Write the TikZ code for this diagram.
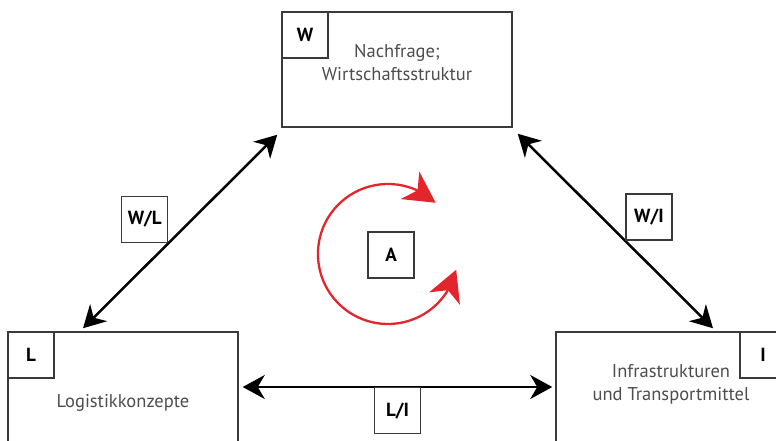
\documentclass[tikz,border=0pt]{standalone}
\usepackage{fontspec}
\setmainfont{PT Sans}
\usetikzlibrary{arrows.meta,bending}
\definecolor{framegray}{HTML}{3A3A3A}
\definecolor{textgray}{HTML}{4D4D4D}
\definecolor{cyclered}{HTML}{E3262D}

\begin{document}
\begin{tikzpicture}[x=1pt,y=1pt,
    >={Stealth[length=22pt,width=24pt,inset=7pt]},
    field/.style={draw=framegray, line width=1.5pt, minimum width=230pt, minimum height=115pt, inner sep=0pt},
    tag/.style={draw=framegray, fill=white, line width=1.5pt, minimum size=46pt, inner sep=0pt, font=\fontsize{19}{22}\selectfont\bfseries},
    caption/.style={text=textgray, align=center, font=\fontsize{18.5}{23}\selectfont},
    link/.style={<->, line width=2.5pt},
    turn/.style={{Stealth[length=31pt,width=33pt,inset=9pt]}-{Stealth[length=31pt,width=33pt,inset=9pt]}, draw=cyclered, line width=2.3pt}]
      \useasboundingbox (0,0) rectangle (776,441);
      \clip (0,0) rectangle (776,441);
      \node[field] (W) at (397,371.5) {};
      \node[field] (L) at (123,51.5) {};
      \node[field] (I) at (671,51.5) {};
      \node[tag,anchor=north west] (Wtag) at (W.north west) {W};
      \node[tag,anchor=north west] (Ltag) at (L.north west) {L};
      \node[tag,anchor=north east] (Itag) at (I.north east) {I};
      \node[caption] (Wtext) at (397,378) {Nachfrage;\\Wirtschaftsstruktur};
      \node[caption] (Ltext) at (123,38) {Logistikkonzepte};
      \node[caption] (Itext) at (671,57) {Infrastrukturen\\und Transportmittel};
      \draw[link] ([shift={(-4,-7)}]W.south west) -- ([shift={(-40,3)}]L.north) node[tag,pos=0.56,anchor=south east] (WL) {W/L};
      \draw[link] ([shift={(5,-6)}]W.south east) -- ([shift={(42,3)}]I.north) node[tag,pos=0.55,anchor=south west] (WI) {W/I};
      \draw[link] ([shift={(4,2.5)}]L.east) -- ([shift={(-3,2.5)}]I.west) node[tag,midway,anchor=north] (LI) {L/I};
      \node[tag] (A) at (391,186) {A};
      \draw[turn] ([shift={(44.7,52.2)}]A.center) arc[start angle=47, end angle=347, radius=70];
    \end{tikzpicture}
\end{document}
